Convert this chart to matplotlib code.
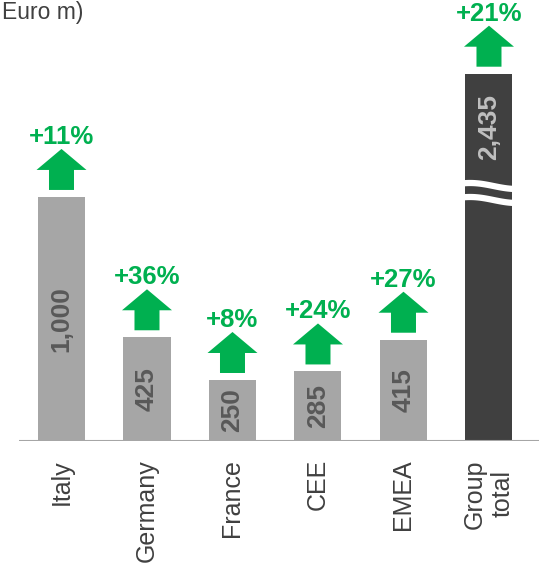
import numpy as np
import matplotlib
matplotlib.use("Agg")
import matplotlib.pyplot as plt
from matplotlib.patches import Polygon

plt.rcParams['font.family'] = ['Liberation Sans', 'DejaVu Sans']

categories = ["Italy", "Germany", "France", "CEE", "EMEA", "Group\ntotal"]
values = [1000, 425, 250, 285, 415, 2435]
value_labels = ["1,000", "425", "250", "285", "415", "2,435"]
growth = ["+11%", "+36%", "+8%", "+24%", "+27%", "+21%"]
unit_label = "Euro m)"

BREAK_CAP = 1505  # displayed height of the broken total bar

W, H = 539, 567
fig = plt.figure(figsize=(W / 100, H / 100), dpi=100)
ax_left, ax_bottom = 19 / W, 126 / H
ax_w, ax_h = (W - 19) / W, 441 / H
ax = fig.add_axes([ax_left, ax_bottom, ax_w, ax_h])

xmin, xmax = -0.497, 5.585
ymin, ymax = 0, 1807
ax.set_xlim(xmin, xmax)
ax.set_ylim(ymin, ymax)
px_x = (xmax - xmin) / (W - 19)
px_y = (ymax - ymin) / 441

green = "#00B050"
gray_bar = "#A6A6A6"
dark_bar = "#404040"

x = np.arange(len(categories))
heights = [min(v, BREAK_CAP) for v in values]
colors = [gray_bar] * 5 + [dark_bar]
ax.bar(x, heights, width=0.55, color=colors, zorder=2)

for i, (h, lab, g) in enumerate(zip(heights, value_labels, growth)):
    # value label
    if i < 5:
        ax.text(x[i], h / 2, lab, rotation=90, ha="center", va="center",
                fontsize=19, fontweight="bold", color="#595959", zorder=3)
    else:
        ax.text(x[i], h - 53 * px_y, lab, rotation=90, ha="center", va="center",
                fontsize=19, fontweight="bold", color="#BFBFBF", zorder=3)
    # arrow
    base = h + 7 * px_y
    sw, hw = 12.5 * px_x, 25 * px_x
    sh, hh = 20 * px_y, 21 * px_y
    verts = [(x[i] - sw, base), (x[i] + sw, base), (x[i] + sw, base + sh),
             (x[i] + hw, base + sh), (x[i], base + sh + hh),
             (x[i] - hw, base + sh), (x[i] - sw, base + sh)]
    ax.add_patch(Polygon(verts, closed=True, color=green, lw=0, zorder=3))
    ax.text(x[i], base + sh + hh + 12 * px_y, g, ha="center", va="center",
            fontsize=18.5, fontweight="bold", color=green, zorder=3)

# break marks on total bar
u = np.linspace(0, 1, 100)
for off in (255, 241):
    yy = off * px_y + 3 * px_y * np.cos(np.pi * u * 1.1 - 0.4)
    ax.plot(x[5] - 0.29 + 0.6 * u, yy, color="white", lw=4.5, zorder=4,
            solid_capstyle="butt")

ax.axhline(0, color="#A6A6A6", lw=1.5, zorder=3)

for s in ax.spines.values():
    s.set_visible(False)
ax.set_yticks([])
ax.set_xticks(x)
ax.set_xticklabels(categories, rotation=90, fontsize=18, color="#404040",
                   ha="center", va="top", multialignment="center")
ax.tick_params(axis="x", length=0, pad=13)

fig.text(2 / W, 1 - 12 / H, unit_label, ha="left", va="center", fontsize=16.5,
         color="#404040")

fig.savefig("out.png", dpi=100)
